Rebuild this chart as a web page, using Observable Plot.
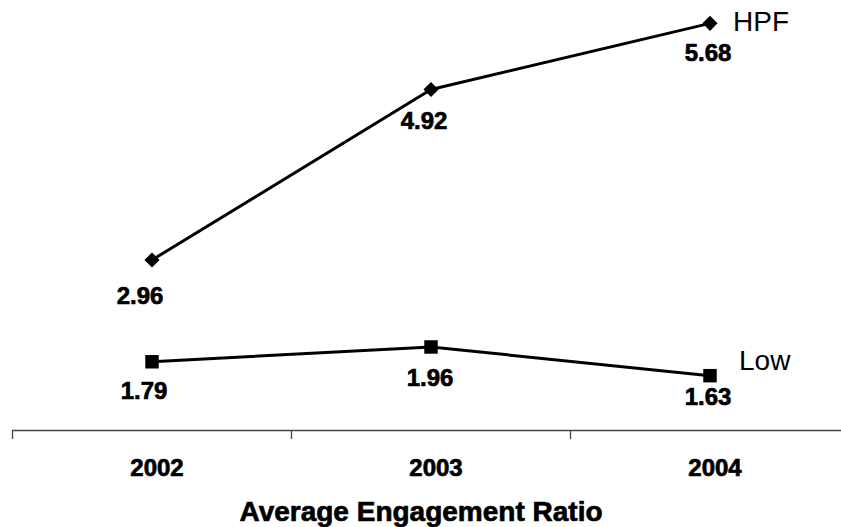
<!DOCTYPE html>
<html>
<head>
<meta charset="utf-8">
<script src="https://cdn.jsdelivr.net/npm/d3@7"></script>
<script src="https://cdn.jsdelivr.net/npm/@observablehq/plot@0.6"></script>
<style>
  html, body { margin: 0; padding: 0; background: #fff; }
  #chart svg { display: block; }
</style>
</head>
<body>
<div id="chart"></div>
<script>
// Average engagement ratio by year, for the HPF group and the Low group
const years = [2002, 2003, 2004];
const hpfValues = [2.96, 4.92, 5.68];
const lowValues = [1.79, 1.96, 1.63];
const seriesNames = ["HPF", "Low"];
const tickLabels = ["2002", "2003", "2004"];
const axisTitle = "Average Engagement Ratio";

const rows = years.flatMap((year, i) => [
  {series: seriesNames[0], year, value: hpfValues[i]},
  {series: seriesNames[1], year, value: lowValues[i]}
]);

// category boundaries, where the axis tick marks sit
const boundaries = years.map(y => y - 0.5);
const xMin = years[0] - 0.5, xMax = years[years.length - 1] + 0.5;

// value label placement, relative to each point
const labelShift = {
  HPF: [[-12, 36], [-7, 32], [-2, 30]],
  Low: [[-8, 30], [-1, 31], [-2, 22]]
};

// heavy bold text: bold face plus a thin outline in the same colour
const boldFont = {fontSize: 24, fontWeight: "bold", fill: "#000", stroke: "#000", strokeWidth: 0.7};

const valueLabels = rows.map(d => {
  const [dx, dy] = labelShift[d.series][years.indexOf(d.year)];
  return Plot.text([d], {x: "year", y: "value", text: v => v.value.toFixed(2), dx, dy, ...boldFont});
});

const lastYear = years[years.length - 1];

const chart = Plot.plot({
  width: 841,
  height: 527,
  marginTop: 0,
  marginRight: 0,
  marginBottom: 97,
  marginLeft: 0,
  style: {fontFamily: "'Liberation Sans', Arial, sans-serif", background: "#fff", color: "#000", overflow: "visible"},
  x: {type: "linear", domain: [xMin, xMax], range: [12, 849], axis: null},
  y: {domain: [1, 6], range: [430, -5], axis: null},
  marks: [
    Plot.ruleY([1], {x1: xMin, x2: xMax, stroke: "#444", strokeWidth: 1.3}),
    Plot.axisX({ticks: boundaries, tickSize: 9, tickFormat: () => "", stroke: "#444", strokeWidth: 1.3, label: null}),
    // category labels under the axis
    Plot.text(years, {x: d => d, text: (d, i) => tickLabels[i], frameAnchor: "bottom", lineAnchor: "middle", dy: 38, dx: 5, ...boldFont}),
    Plot.line(rows, {x: "year", y: "value", z: "series", stroke: "#000", strokeWidth: 3}),
    Plot.dot(rows.filter(d => d.series === "HPF"), {x: "year", y: "value", symbol: "diamond2", r: 6.8, fill: "#000"}),
    Plot.dot(rows.filter(d => d.series === "Low"), {x: "year", y: "value", symbol: "square", r: 7.6, fill: "#000"}),
    ...valueLabels,
    Plot.text(rows.filter(d => d.series === "HPF" && d.year === lastYear),
      {x: "year", y: "value", text: "series", textAnchor: "start", dx: 23, dy: -1, fontSize: 28, fill: "#000"}),
    Plot.text(rows.filter(d => d.series === "Low" && d.year === lastYear),
      {x: "year", y: "value", text: "series", textAnchor: "start", dx: 29, dy: -15, fontSize: 28, fill: "#000"}),
    Plot.text([axisTitle], {frameAnchor: "bottom", lineAnchor: "middle", dy: 82, ...boldFont, fontSize: 28})
  ]
});

document.getElementById("chart").appendChild(chart);
</script>
</body>
</html>
